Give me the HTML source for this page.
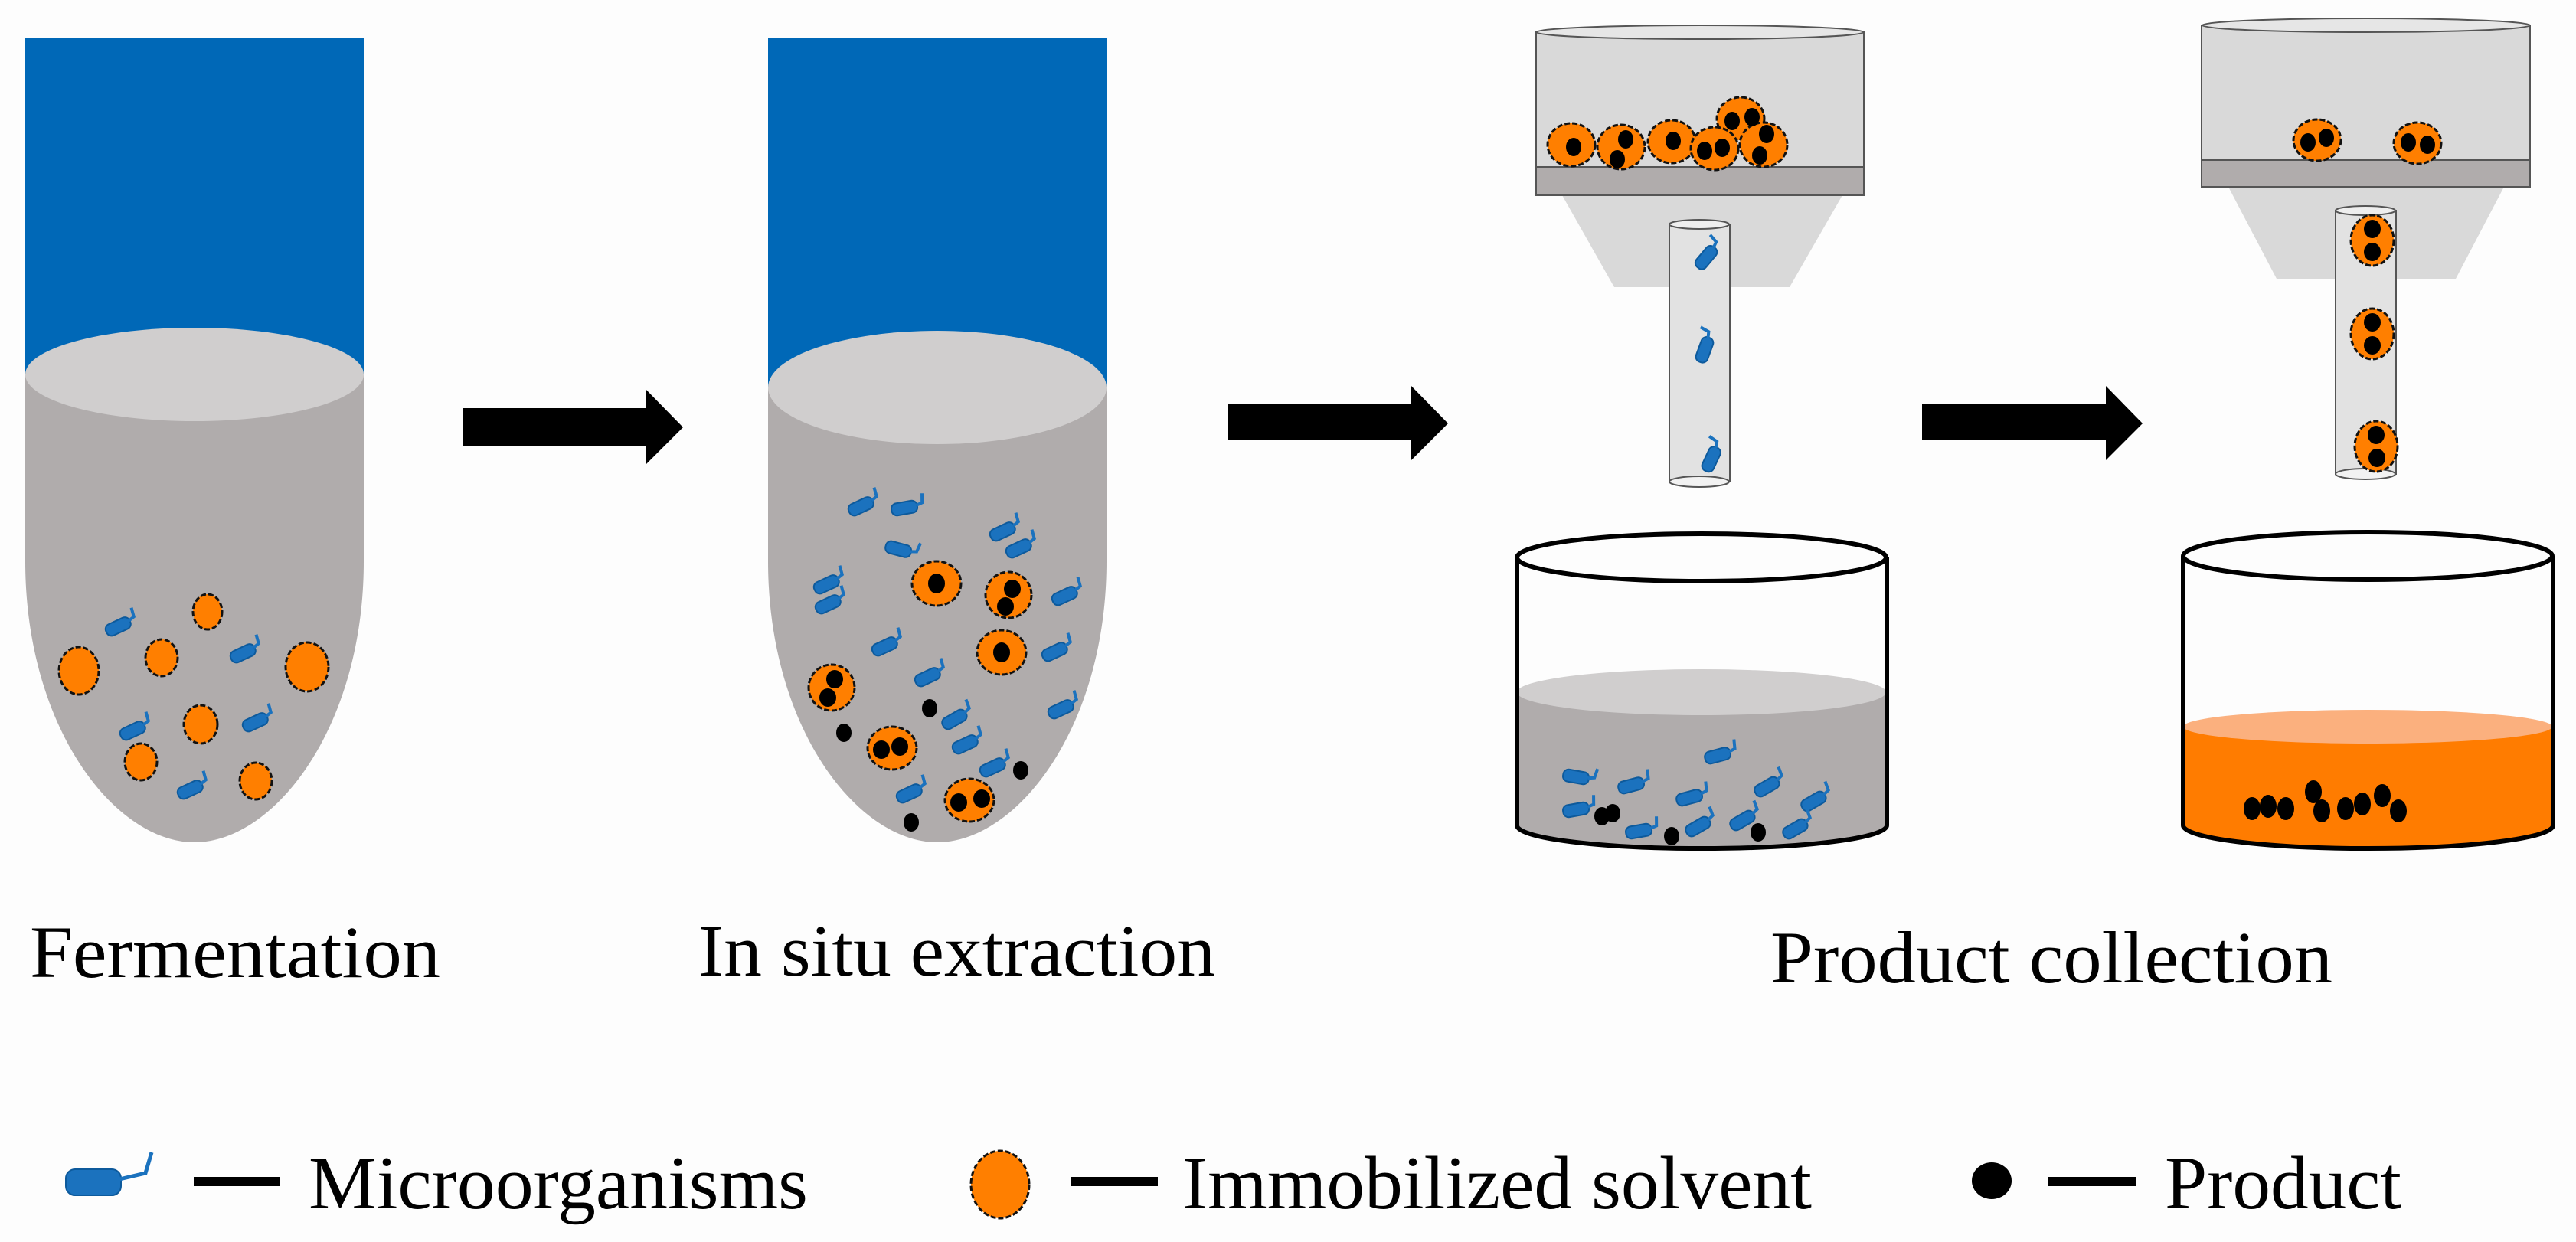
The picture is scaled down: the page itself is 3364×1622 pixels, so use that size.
<!DOCTYPE html>
<html><head><meta charset="utf-8"><style>html,body{margin:0;padding:0;background:#fdfdfd}svg{display:block}</style></head><body>
<svg width="3364" height="1622" viewBox="0 0 3364 1622" xmlns="http://www.w3.org/2000/svg" font-family="'Liberation Serif',serif">
<defs>
<g id="m"><rect x="-20" y="-8" width="34" height="16" rx="7" fill="#1b72be" stroke="#0d5a9c" stroke-width="2"/><path d="M13,-1 L21,-3 L23,-15" fill="none" stroke="#1b72be" stroke-width="4"/></g>
</defs>
<rect width="3364" height="1622" fill="#fdfdfd"/>
<!-- Tube 1 -->
<rect x="33" y="50" width="442" height="440" fill="#0068b7"/>
<path d="M33,489 L33,733 C33,950 150,1100 254,1100 C358,1100 475,950 475,733 L475,489 Z" fill="#b0acac"/>
<ellipse cx="254" cy="489" rx="221" ry="61" fill="#d0cece"/>
<g fill="#ff7f00" stroke="#111" stroke-width="3" stroke-dasharray="7 3">
<ellipse cx="271" cy="799" rx="19" ry="23"/><ellipse cx="103" cy="876" rx="26" ry="31"/><ellipse cx="211" cy="859" rx="21" ry="24"/><ellipse cx="401" cy="871" rx="28" ry="32"/><ellipse cx="262" cy="946" rx="22" ry="25"/><ellipse cx="184" cy="995" rx="21" ry="24"/><ellipse cx="334" cy="1020" rx="21" ry="24"/>
</g>
<g>
<use href="#m" transform="translate(157,817) rotate(-25)"/><use href="#m" transform="translate(320,852) rotate(-25)"/><use href="#m" transform="translate(176,953) rotate(-25)"/><use href="#m" transform="translate(336,942) rotate(-25)"/><use href="#m" transform="translate(251,1030) rotate(-25)"/>
</g>
<!-- Arrow 1 -->
<path d="M604,533 L843,533 L843,508 L892,558 L843,607 L843,583 L604,583 Z" fill="#000"/>
<!-- Tube 2 -->
<rect x="1003" y="50" width="442" height="460" fill="#0068b7"/>
<path d="M1003,506 L1003,733 C1003,950 1120,1100 1224,1100 C1328,1100 1445,950 1445,733 L1445,506 Z" fill="#b0acac"/>
<ellipse cx="1224" cy="506" rx="221" ry="74" fill="#d0cece"/>
<g>
<use href="#m" transform="translate(1127,660) rotate(-25)"/><use href="#m" transform="translate(1184,663) rotate(-10)"/><use href="#m" transform="translate(1312,693) rotate(-25)"/><use href="#m" transform="translate(1333,715) rotate(-25)"/><use href="#m" transform="translate(1176,718) rotate(15)"/><use href="#m" transform="translate(1082,762) rotate(-25)"/><use href="#m" transform="translate(1084,788) rotate(-25)"/><use href="#m" transform="translate(1393,777) rotate(-25)"/><use href="#m" transform="translate(1158,843) rotate(-25)"/><use href="#m" transform="translate(1380,850) rotate(-25)"/><use href="#m" transform="translate(1214,883) rotate(-25)"/><use href="#m" transform="translate(1249,938) rotate(-30)"/><use href="#m" transform="translate(1388,925) rotate(-25)"/><use href="#m" transform="translate(1263,971) rotate(-25)"/><use href="#m" transform="translate(1299,1001) rotate(-25)"/><use href="#m" transform="translate(1190,1035) rotate(-25)"/>
</g>
<g fill="#ff7f00" stroke="#111" stroke-width="3" stroke-dasharray="7 3">
<ellipse cx="1223" cy="762" rx="32" ry="29"/><ellipse cx="1317" cy="777" rx="30" ry="30"/><ellipse cx="1308" cy="852" rx="32" ry="29"/><ellipse cx="1086" cy="898" rx="30" ry="30"/><ellipse cx="1165" cy="977" rx="32" ry="28"/><ellipse cx="1266" cy="1045" rx="32" ry="28"/>
</g>
<g fill="#000">
<ellipse cx="1223" cy="762" rx="11" ry="13"/>
<ellipse cx="1322" cy="769" rx="11" ry="12"/><ellipse cx="1313" cy="792" rx="11" ry="12"/>
<ellipse cx="1308" cy="852" rx="11" ry="13"/>
<ellipse cx="1090" cy="887" rx="11" ry="12"/><ellipse cx="1081" cy="911" rx="11" ry="12"/>
<ellipse cx="1151" cy="979" rx="11" ry="12"/><ellipse cx="1175" cy="975" rx="11" ry="12"/>
<ellipse cx="1252" cy="1048" rx="11" ry="12"/><ellipse cx="1282" cy="1043" rx="11" ry="12"/>
<ellipse cx="1214" cy="925" rx="10" ry="12"/><ellipse cx="1102" cy="957" rx="10" ry="12"/><ellipse cx="1333" cy="1006" rx="10" ry="12"/><ellipse cx="1190" cy="1074" rx="10" ry="12"/>
</g>
<!-- Arrows 2,3 -->
<path d="M1604,528 L1843,528 L1843,504 L1891,553 L1843,601 L1843,575 L1604,575 Z" fill="#000"/>
<path d="M2510,528 L2750,528 L2750,504 L2798,553 L2750,601 L2750,575 L2510,575 Z" fill="#000"/>
<!-- Funnel 1 -->
<path d="M2040,255 L2406,255 L2337,375 L2108,375 Z" fill="#d9d9d9"/>
<rect x="2006" y="42" width="428" height="176" fill="#d9d9d9" stroke="#555" stroke-width="2"/>
<ellipse cx="2220" cy="42" rx="214" ry="9" fill="#e6e6e6" stroke="#555" stroke-width="2"/>
<rect x="2006" y="218" width="428" height="37" fill="#b0acac" stroke="#555" stroke-width="2"/>
<g fill="#ff7f00" stroke="#111" stroke-width="3" stroke-dasharray="7 3">
<ellipse cx="2052" cy="189" rx="31" ry="28"/><ellipse cx="2117" cy="192" rx="31" ry="29"/><ellipse cx="2183" cy="185" rx="31" ry="28"/><ellipse cx="2273" cy="155" rx="31" ry="28"/><ellipse cx="2303" cy="189" rx="31" ry="29"/><ellipse cx="2239" cy="194" rx="31" ry="28"/>
</g>
<g fill="#000">
<ellipse cx="2055" cy="192" rx="10" ry="12"/>
<ellipse cx="2123" cy="182" rx="10" ry="12"/><ellipse cx="2112" cy="208" rx="10" ry="12"/>
<ellipse cx="2185" cy="184" rx="10" ry="12"/>
<ellipse cx="2262" cy="158" rx="10" ry="12"/><ellipse cx="2288" cy="153" rx="10" ry="12"/>
<ellipse cx="2307" cy="175" rx="10" ry="12"/><ellipse cx="2298" cy="203" rx="10" ry="12"/>
<ellipse cx="2226" cy="197" rx="10" ry="12"/><ellipse cx="2249" cy="193" rx="10" ry="12"/>
</g>
<rect x="2180" y="293" width="79" height="336" fill="#e2e2e2" stroke="#555" stroke-width="2"/>
<ellipse cx="2219" cy="293" rx="39" ry="6" fill="#eee" stroke="#555" stroke-width="2"/>
<ellipse cx="2219" cy="629" rx="39" ry="7" fill="#f2f2f2" stroke="#555" stroke-width="2"/>
<use href="#m" transform="translate(2230,334) rotate(-50)"/>
<use href="#m" transform="translate(2227,454) rotate(-70)"/>
<use href="#m" transform="translate(2236,597) rotate(-65)"/>
<!-- Beaker 1 -->
<path d="M1981,904 L1981,1078 A241,30 0 0 0 2464,1078 L2464,904 Z" fill="#b0acac"/>
<ellipse cx="2222" cy="904" rx="241" ry="30" fill="#d0cece"/>
<g>
<use href="#m" transform="translate(2246,986) rotate(-15)"/><use href="#m" transform="translate(2061,1015) rotate(10)"/><use href="#m" transform="translate(2133,1025) rotate(-15)"/><use href="#m" transform="translate(2310,1026) rotate(-30)"/><use href="#m" transform="translate(2209,1041) rotate(-15)"/><use href="#m" transform="translate(2371,1045) rotate(-30)"/><use href="#m" transform="translate(2061,1057) rotate(-10)"/><use href="#m" transform="translate(2143,1085) rotate(-10)"/><use href="#m" transform="translate(2220,1078) rotate(-30)"/><use href="#m" transform="translate(2278,1070) rotate(-30)"/><use href="#m" transform="translate(2347,1081) rotate(-30)"/>
</g>
<g fill="#000"><ellipse cx="2092" cy="1066" rx="10" ry="12"/><ellipse cx="2106" cy="1062" rx="10" ry="12"/><ellipse cx="2183" cy="1092" rx="10" ry="12"/><ellipse cx="2296" cy="1087" rx="10" ry="12"/></g>
<path d="M1981,728 L1981,1078 A241,30 0 0 0 2464,1078 L2464,728" fill="none" stroke="#000" stroke-width="6"/>
<ellipse cx="2222" cy="728" rx="241" ry="31" fill="none" stroke="#000" stroke-width="6"/>
<!-- Funnel 2 -->
<path d="M2910,244 L3270,244 L3207,364 L2973,364 Z" fill="#d9d9d9"/>
<rect x="2875" y="33" width="429" height="176" fill="#d9d9d9" stroke="#555" stroke-width="2"/>
<ellipse cx="3090" cy="33" rx="214" ry="9" fill="#e6e6e6" stroke="#555" stroke-width="2"/>
<rect x="2875" y="209" width="429" height="35" fill="#b0acac" stroke="#555" stroke-width="2"/>
<rect x="3050" y="275" width="79" height="344" fill="#e2e2e2" stroke="#555" stroke-width="2"/>
<ellipse cx="3089" cy="275" rx="39" ry="6" fill="#eee" stroke="#555" stroke-width="2"/>
<ellipse cx="3089" cy="619" rx="39" ry="7" fill="#f2f2f2" stroke="#555" stroke-width="2"/>
<g fill="#ff7f00" stroke="#111" stroke-width="3" stroke-dasharray="7 3">
<ellipse cx="3026" cy="183" rx="31" ry="27"/><ellipse cx="3157" cy="187" rx="31" ry="27"/>
<ellipse cx="3098" cy="314" rx="28" ry="33"/><ellipse cx="3098" cy="436" rx="28" ry="33"/><ellipse cx="3103" cy="583" rx="28" ry="33"/>
</g>
<g fill="#000">
<ellipse cx="3014" cy="186" rx="10" ry="12"/><ellipse cx="3038" cy="180" rx="10" ry="12"/>
<ellipse cx="3145" cy="186" rx="10" ry="12"/><ellipse cx="3170" cy="189" rx="10" ry="12"/>
<ellipse cx="3098" cy="299" rx="11" ry="12"/><ellipse cx="3098" cy="329" rx="11" ry="12"/>
<ellipse cx="3098" cy="421" rx="11" ry="12"/><ellipse cx="3098" cy="451" rx="11" ry="12"/>
<ellipse cx="3103" cy="568" rx="11" ry="12"/><ellipse cx="3104" cy="598" rx="11" ry="12"/>
</g>
<!-- Beaker 2 -->
<path d="M2851,949 L2851,1078 A241,30 0 0 0 3334,1078 L3334,949 Z" fill="#ff7c00"/>
<ellipse cx="3092" cy="949" rx="241" ry="22" fill="#fbb07e"/>
<g fill="#000">
<ellipse cx="2941" cy="1056" rx="11" ry="15"/><ellipse cx="2962" cy="1053" rx="11" ry="15"/><ellipse cx="2985" cy="1056" rx="11" ry="15"/><ellipse cx="3021" cy="1034" rx="11" ry="15"/><ellipse cx="3032" cy="1059" rx="11" ry="15"/><ellipse cx="3063" cy="1056" rx="11" ry="15"/><ellipse cx="3085" cy="1050" rx="11" ry="15"/><ellipse cx="3111" cy="1039" rx="11" ry="15"/><ellipse cx="3132" cy="1059" rx="11" ry="15"/>
</g>
<path d="M2851,726 L2851,1078 A241,30 0 0 0 3334,1078 L3334,726" fill="none" stroke="#000" stroke-width="6"/>
<ellipse cx="3092" cy="726" rx="241" ry="31" fill="none" stroke="#000" stroke-width="6"/>
<!-- Labels -->
<g font-size="96" fill="#000">
<text x="39" y="1276" textLength="536" lengthAdjust="spacingAndGlyphs">Fermentation</text>
<text x="912" y="1274" textLength="675" lengthAdjust="spacingAndGlyphs">In situ extraction</text>
<text x="2312" y="1283" textLength="734" lengthAdjust="spacingAndGlyphs">Product collection</text>
</g>
<!-- Legend -->
<g>
<rect x="86" y="1527" width="72" height="34" rx="12" fill="#1b72be" stroke="#0d5a9c" stroke-width="2"/>
<path d="M156,1540 L190,1532 L198,1505" fill="none" stroke="#1b72be" stroke-width="5"/>
<rect x="253" y="1537" width="112" height="12" fill="#000"/>
<ellipse cx="1306" cy="1547" rx="38" ry="44" fill="#ff7f00" stroke="#111" stroke-width="3" stroke-dasharray="7 3"/>
<rect x="1398" y="1537" width="114" height="12" fill="#000"/>
<ellipse cx="2601" cy="1542" rx="26" ry="24" fill="#000"/>
<rect x="2675" y="1537" width="114" height="12" fill="#000"/>
</g>
<g font-size="99" fill="#000">
<text x="403" y="1578" textLength="652" lengthAdjust="spacingAndGlyphs">Microorganisms</text>
<text x="1544" y="1578" textLength="822" lengthAdjust="spacingAndGlyphs">Immobilized solvent</text>
<text x="2827" y="1578" textLength="309" lengthAdjust="spacingAndGlyphs">Product</text>
</g>
</svg>
</body></html>
